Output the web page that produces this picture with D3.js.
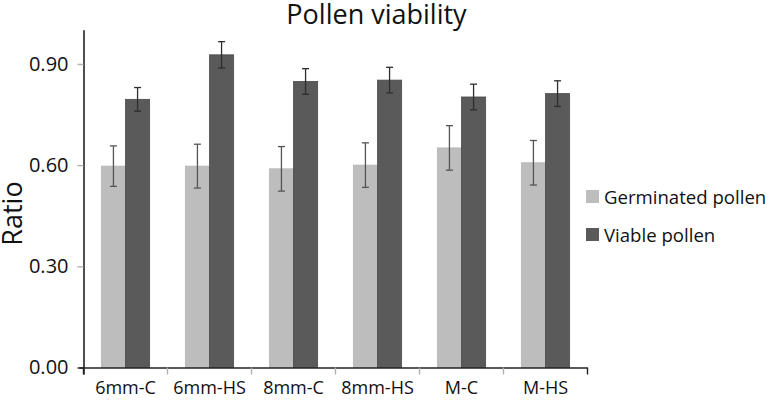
<!DOCTYPE html>
<html>
<head>
<meta charset="utf-8">
<script src="https://cdn.jsdelivr.net/npm/d3@7"></script>
<style>
  html, body { margin: 0; padding: 0; background: #fff; }
  svg { display: block; }
  text { font-family: "Open Sans", "Noto Sans", sans-serif; fill: #111; }
</style>
</head>
<body>
<svg id="chart" width="774" height="402"></svg>
<script>
const categories = ["6mm-C", "6mm-HS", "8mm-C", "8mm-HS", "M-C", "M-HS"];
const seriesNames = ["Germinated pollen", "Viable pollen"];
const germinated = [0.597, 0.597, 0.589, 0.600, 0.651, 0.607];
const germinatedErr = [0.060, 0.065, 0.066, 0.066, 0.066, 0.066];
const viable = [0.795, 0.927, 0.848, 0.852, 0.802, 0.812];
const viableErr = [0.035, 0.039, 0.038, 0.038, 0.038, 0.038];
const yTicks = [0, 0.3, 0.6, 0.9];
const titleText = "Pollen viability";
const yLabel = "Ratio";

(function () {
const colors = ["#bdbdbd", "#5a5a5a"];
const errColors = ["#555555", "#2e2e2e"];

const svg = d3.select("#chart");
const mLeft = 83.5, mRight = 587.5, mTop = 30.2, mBottom = 367.5;

const x0 = d3.scaleBand().domain(categories).range([mLeft, mRight]).padding(0);
const x1 = d3.scaleBand().domain(seriesNames).range([0, x0.bandwidth()]).paddingInner(0).paddingOuter(0.74);
const y = d3.scaleLinear().domain([0, 1]).range([mBottom, mTop]);

const rows = categories.map((c, i) => ({
  cat: c,
  vals: [
    { s: seriesNames[0], v: germinated[i], e: germinatedErr[i], k: 0 },
    { s: seriesNames[1], v: viable[i], e: viableErr[i], k: 1 }
  ]
}));

// bars
const g = svg.append("g");
const groups = g.selectAll("g.grp").data(rows).join("g")
  .attr("class", "grp")
  .attr("transform", d => `translate(${x0(d.cat)},0)`);

groups.selectAll("rect").data(d => d.vals).join("rect")
  .attr("x", d => x1(d.s))
  .attr("y", d => y(d.v))
  .attr("width", x1.bandwidth())
  .attr("height", d => y(0) - y(d.v))
  .attr("fill", d => colors[d.k])
  .attr("stroke", d => d.k === 1 ? "#4a4a4a" : "#b5b5b5")
  .attr("stroke-width", 0.8);

// error bars
const eb = groups.selectAll("g.err").data(d => d.vals).join("g").attr("class", "err")
  .attr("stroke", d => errColors[d.k]).attr("stroke-width", 1.3);
eb.append("line")
  .attr("x1", d => x1(d.s) + x1.bandwidth() / 2)
  .attr("x2", d => x1(d.s) + x1.bandwidth() / 2)
  .attr("y1", d => y(d.v + d.e)).attr("y2", d => y(d.v - d.e));
eb.append("line")
  .attr("x1", d => x1(d.s) + x1.bandwidth() / 2 - 3.5)
  .attr("x2", d => x1(d.s) + x1.bandwidth() / 2 + 3.5)
  .attr("y1", d => y(d.v + d.e)).attr("y2", d => y(d.v + d.e));
eb.append("line")
  .attr("x1", d => x1(d.s) + x1.bandwidth() / 2 - 3.5)
  .attr("x2", d => x1(d.s) + x1.bandwidth() / 2 + 3.5)
  .attr("y1", d => y(d.v - d.e)).attr("y2", d => y(d.v - d.e));

// y axis
const yAxis = svg.append("g").attr("transform", `translate(${mLeft},0)`)
  .call(d3.axisLeft(y).tickValues(yTicks).tickFormat(d3.format(".2f")).tickSize(6).tickSizeOuter(0).tickPadding(9));
yAxis.select(".domain").attr("stroke", "#222").attr("stroke-width", 1.6)
  .attr("d", `M0.5,${mBottom + 7}V${mTop}`);
yAxis.selectAll(".tick line").attr("stroke", d => d === 0 ? "#222" : "#b0b0b0").attr("stroke-width", 1.4);
yAxis.selectAll(".tick text").style("font-size", "20px").attr("fill", "#111")
  .style("font-family", '"Open Sans", sans-serif');

// x axis
const xAxis = svg.append("g").attr("transform", `translate(0,${mBottom})`)
  .call(d3.axisBottom(x0).tickSize(0).tickSizeOuter(0).tickPadding(14));
xAxis.select(".domain").attr("stroke", "#222").attr("stroke-width", 1.6)
  .attr("d", `M${mLeft - 4},0.5H${mRight}`);
xAxis.selectAll(".tick text").style("font-size", "18px").attr("fill", "#111")
  .style("font-family", '"Open Sans", sans-serif');

// x boundary ticks
const bounds = categories.map(c => x0(c)).concat([x0(categories[categories.length - 1]) + x0.bandwidth()]);
svg.append("g").selectAll("line").data(bounds).join("line")
  .attr("x1", d => d).attr("x2", d => d)
  .attr("y1", mBottom).attr("y2", mBottom + 7)
  .attr("stroke", (d, i) => (i === 0 || i === bounds.length - 1) ? "#222" : "#b0b0b0")
  .attr("stroke-width", 1.4);

// title
svg.append("text").attr("x", 376.5).attr("y", 24).attr("text-anchor", "middle")
  .style("font-size", "27px").text(titleText);

// y label
svg.append("text").attr("transform", "translate(22,213.5) rotate(-90)")
  .attr("text-anchor", "middle").style("font-size", "27px").text(yLabel);

// legend
const leg = svg.append("g").attr("transform", "translate(586,190)");
const li = leg.selectAll("g").data(seriesNames).join("g")
  .attr("transform", (d, i) => `translate(0,${i * 38})`);
li.append("rect").attr("width", 13).attr("height", 13).attr("fill", (d, i) => colors[i]);
li.append("text").attr("x", 18).attr("y", 14.3).style("font-size", "18.6px").text(d => d);
})();
</script>
</body>
</html>
